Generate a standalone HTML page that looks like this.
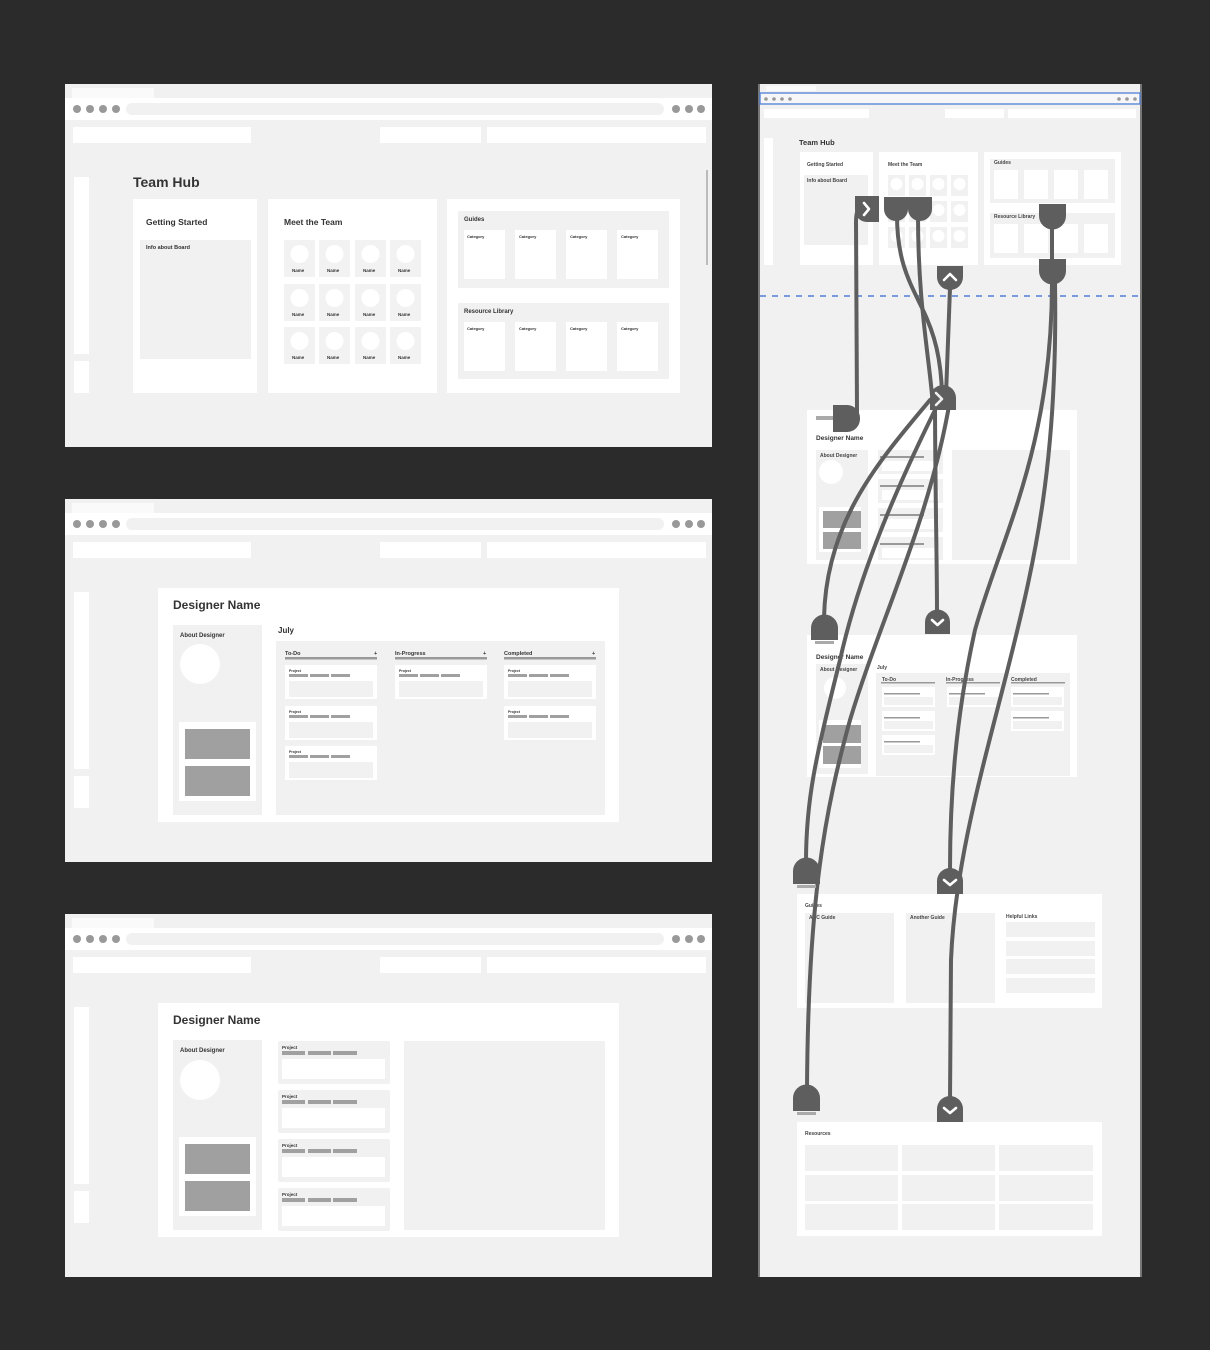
<!DOCTYPE html>
<html><head><meta charset="utf-8"><style>
html,body{margin:0;padding:0;background:#2b2b2b;}
svg{display:block;font-family:"Liberation Sans",sans-serif;}
.t{fill:#333;font-weight:bold;}
.s{fill:#444;font-weight:bold;font-size:5px;}
.c{fill:none;stroke:#5e5e5e;stroke-width:4;stroke-linecap:round;}
.n{fill:#5e5e5e;}
.ch{fill:none;stroke:#fff;stroke-width:2.6;stroke-linecap:round;stroke-linejoin:round;}
</style></head><body>
<svg width="1210" height="1350" viewBox="0 0 1210 1350" xmlns="http://www.w3.org/2000/svg">
<rect width="1210" height="1350" fill="#2b2b2b"/>

<!-- Panel 1 -->
<g>
<rect x="65" y="84" width="647" height="363" fill="#f1f1f1"/>
<rect x="72" y="88" width="82" height="10" fill="#fafafa"/>
<rect x="65" y="98" width="647" height="22" fill="#fff"/>
<circle cx="77" cy="109" r="4" fill="#999"/><circle cx="90" cy="109" r="4" fill="#999"/><circle cx="103" cy="109" r="4" fill="#999"/><circle cx="116" cy="109" r="4" fill="#999"/>
<rect x="126" y="103" width="538" height="12" rx="6" fill="#f1f1f1"/>
<circle cx="676" cy="109" r="4" fill="#999"/><circle cx="689" cy="109" r="4" fill="#999"/><circle cx="701" cy="109" r="4" fill="#999"/>
<rect x="73" y="127" width="178" height="16" fill="#fff"/><rect x="380" y="127" width="101" height="16" fill="#fff"/><rect x="487" y="127" width="219" height="16" fill="#fff"/>
<rect x="74" y="177" width="15" height="177" fill="#fff"/><rect x="74" y="361" width="15" height="32" fill="#fff"/>
</g>
<rect x="706" y="170" width="2" height="95" fill="#bbb"/>
<text x="133" y="187" class="t" font-size="14">Team Hub</text>
<rect x="133" y="199" width="124" height="194" fill="#fff"/>
<text x="146" y="225" class="t" font-size="8.5">Getting Started</text>
<rect x="140" y="240" width="111" height="119" fill="#f1f1f2"/>
<text x="146" y="249" class="t" font-size="5.5">Info about Board</text>
<rect x="268" y="199" width="169" height="194" fill="#fff"/>
<text x="284" y="225" class="t" font-size="8.5">Meet the Team</text>
<g>
<rect x="284" y="240" width="31" height="37" fill="#f2f2f3"/><circle cx="299.5" cy="254" r="9" fill="#fff"/><text x="292" y="272" class="t" font-size="4.5">Name</text>
<rect x="319" y="240" width="31" height="37" fill="#f2f2f3"/><circle cx="334.5" cy="254" r="9" fill="#fff"/><text x="327" y="272" class="t" font-size="4.5">Name</text>
<rect x="355" y="240" width="31" height="37" fill="#f2f2f3"/><circle cx="370.5" cy="254" r="9" fill="#fff"/><text x="363" y="272" class="t" font-size="4.5">Name</text>
<rect x="390" y="240" width="31" height="37" fill="#f2f2f3"/><circle cx="405.5" cy="254" r="9" fill="#fff"/><text x="398" y="272" class="t" font-size="4.5">Name</text>
</g>
<g transform="translate(0,44)">
<rect x="284" y="240" width="31" height="37" fill="#f2f2f3"/><circle cx="299.5" cy="254" r="9" fill="#fff"/><text x="292" y="272" class="t" font-size="4.5">Name</text>
<rect x="319" y="240" width="31" height="37" fill="#f2f2f3"/><circle cx="334.5" cy="254" r="9" fill="#fff"/><text x="327" y="272" class="t" font-size="4.5">Name</text>
<rect x="355" y="240" width="31" height="37" fill="#f2f2f3"/><circle cx="370.5" cy="254" r="9" fill="#fff"/><text x="363" y="272" class="t" font-size="4.5">Name</text>
<rect x="390" y="240" width="31" height="37" fill="#f2f2f3"/><circle cx="405.5" cy="254" r="9" fill="#fff"/><text x="398" y="272" class="t" font-size="4.5">Name</text>
</g>
<g transform="translate(0,87)">
<rect x="284" y="240" width="31" height="37" fill="#f2f2f3"/><circle cx="299.5" cy="254" r="9" fill="#fff"/><text x="292" y="272" class="t" font-size="4.5">Name</text>
<rect x="319" y="240" width="31" height="37" fill="#f2f2f3"/><circle cx="334.5" cy="254" r="9" fill="#fff"/><text x="327" y="272" class="t" font-size="4.5">Name</text>
<rect x="355" y="240" width="31" height="37" fill="#f2f2f3"/><circle cx="370.5" cy="254" r="9" fill="#fff"/><text x="363" y="272" class="t" font-size="4.5">Name</text>
<rect x="390" y="240" width="31" height="37" fill="#f2f2f3"/><circle cx="405.5" cy="254" r="9" fill="#fff"/><text x="398" y="272" class="t" font-size="4.5">Name</text>
</g>
<rect x="447" y="199" width="233" height="194" fill="#fff"/>
<rect x="458" y="211" width="211" height="77" fill="#f1f1f2"/>
<text x="464" y="221" class="t" font-size="6">Guides</text>
<rect x="464" y="230" width="41" height="49" fill="#fff"/><rect x="515" y="230" width="41" height="49" fill="#fff"/><rect x="566" y="230" width="41" height="49" fill="#fff"/><rect x="617" y="230" width="41" height="49" fill="#fff"/>
<text x="467" y="238" class="t" font-size="4">Category</text><text x="519" y="238" class="t" font-size="4">Category</text><text x="570" y="238" class="t" font-size="4">Category</text><text x="621" y="238" class="t" font-size="4">Category</text>
<rect x="458" y="303" width="211" height="76" fill="#f1f1f2"/>
<text x="464" y="313" class="t" font-size="6">Resource Library</text>
<rect x="464" y="322" width="41" height="49" fill="#fff"/><rect x="515" y="322" width="41" height="49" fill="#fff"/><rect x="566" y="322" width="41" height="49" fill="#fff"/><rect x="617" y="322" width="41" height="49" fill="#fff"/>
<text x="467" y="330" class="t" font-size="4">Category</text><text x="519" y="330" class="t" font-size="4">Category</text><text x="570" y="330" class="t" font-size="4">Category</text><text x="621" y="330" class="t" font-size="4">Category</text>

<!-- Panel 2 -->
<g transform="translate(0,415)">
<rect x="65" y="84" width="647" height="363" fill="#f1f1f1"/>
<rect x="72" y="88" width="82" height="10" fill="#fafafa"/>
<rect x="65" y="98" width="647" height="22" fill="#fff"/>
<circle cx="77" cy="109" r="4" fill="#999"/><circle cx="90" cy="109" r="4" fill="#999"/><circle cx="103" cy="109" r="4" fill="#999"/><circle cx="116" cy="109" r="4" fill="#999"/>
<rect x="126" y="103" width="538" height="12" rx="6" fill="#f1f1f1"/>
<circle cx="676" cy="109" r="4" fill="#999"/><circle cx="689" cy="109" r="4" fill="#999"/><circle cx="701" cy="109" r="4" fill="#999"/>
<rect x="73" y="127" width="178" height="16" fill="#fff"/><rect x="380" y="127" width="101" height="16" fill="#fff"/><rect x="487" y="127" width="219" height="16" fill="#fff"/>
<rect x="74" y="177" width="15" height="177" fill="#fff"/><rect x="74" y="361" width="15" height="32" fill="#fff"/>
</g>
<rect x="158" y="588" width="461" height="234" fill="#fff"/>
<text x="173" y="609" class="t" font-size="12">Designer Name</text>
<rect x="173" y="625" width="89" height="190" fill="#f1f1f2"/>
<text x="180" y="637" class="t" font-size="6">About Designer</text>
<circle cx="200" cy="664" r="20" fill="#fff"/>
<rect x="179" y="722" width="77" height="79" fill="#fff"/>
<rect x="185" y="729" width="65" height="30" fill="#a0a0a0"/><rect x="185" y="766" width="65" height="30" fill="#a0a0a0"/>
<text x="278" y="633" class="t" font-size="8">July</text>
<rect x="276" y="641" width="329" height="174" fill="#f1f1f2"/>
<text x="285" y="655" class="t" font-size="5.5">To-Do</text><text x="374" y="655" class="t" font-size="5.5">+</text>
<text x="395" y="655" class="t" font-size="5.5">In-Progress</text><text x="483" y="655" class="t" font-size="5.5">+</text>
<text x="504" y="655" class="t" font-size="5.5">Completed</text><text x="592" y="655" class="t" font-size="5.5">+</text>
<rect x="285" y="657" width="92" height="2.5" fill="#999"/><rect x="395" y="657" width="92" height="2.5" fill="#999"/><rect x="504" y="657" width="92" height="2.5" fill="#999"/>
<g>
<rect x="285" y="665" width="92" height="34" fill="#fff"/><text x="289" y="672" class="t" font-size="3.5">Project</text>
<rect x="289" y="674" width="19" height="3" fill="#a0a0a0"/><rect x="310" y="674" width="19" height="3" fill="#a0a0a0"/><rect x="331" y="674" width="19" height="3" fill="#a0a0a0"/>
<rect x="289" y="681" width="84" height="16" fill="#f1f1f2"/>
</g>
<g transform="translate(0,41)"><rect x="285" y="665" width="92" height="34" fill="#fff"/><text x="289" y="672" class="t" font-size="3.5">Project</text><rect x="289" y="674" width="19" height="3" fill="#a0a0a0"/><rect x="310" y="674" width="19" height="3" fill="#a0a0a0"/><rect x="331" y="674" width="19" height="3" fill="#a0a0a0"/><rect x="289" y="681" width="84" height="16" fill="#f1f1f2"/></g>
<g transform="translate(0,81)"><rect x="285" y="665" width="92" height="34" fill="#fff"/><text x="289" y="672" class="t" font-size="3.5">Project</text><rect x="289" y="674" width="19" height="3" fill="#a0a0a0"/><rect x="310" y="674" width="19" height="3" fill="#a0a0a0"/><rect x="331" y="674" width="19" height="3" fill="#a0a0a0"/><rect x="289" y="681" width="84" height="16" fill="#f1f1f2"/></g>
<g transform="translate(110,0)"><rect x="285" y="665" width="92" height="34" fill="#fff"/><text x="289" y="672" class="t" font-size="3.5">Project</text><rect x="289" y="674" width="19" height="3" fill="#a0a0a0"/><rect x="310" y="674" width="19" height="3" fill="#a0a0a0"/><rect x="331" y="674" width="19" height="3" fill="#a0a0a0"/><rect x="289" y="681" width="84" height="16" fill="#f1f1f2"/></g>
<g transform="translate(219,0)"><rect x="285" y="665" width="92" height="34" fill="#fff"/><text x="289" y="672" class="t" font-size="3.5">Project</text><rect x="289" y="674" width="19" height="3" fill="#a0a0a0"/><rect x="310" y="674" width="19" height="3" fill="#a0a0a0"/><rect x="331" y="674" width="19" height="3" fill="#a0a0a0"/><rect x="289" y="681" width="84" height="16" fill="#f1f1f2"/></g>
<g transform="translate(219,41)"><rect x="285" y="665" width="92" height="34" fill="#fff"/><text x="289" y="672" class="t" font-size="3.5">Project</text><rect x="289" y="674" width="19" height="3" fill="#a0a0a0"/><rect x="310" y="674" width="19" height="3" fill="#a0a0a0"/><rect x="331" y="674" width="19" height="3" fill="#a0a0a0"/><rect x="289" y="681" width="84" height="16" fill="#f1f1f2"/></g>

<!-- Panel 3 -->
<g transform="translate(0,830)">
<rect x="65" y="84" width="647" height="363" fill="#f1f1f1"/>
<rect x="72" y="88" width="82" height="10" fill="#fafafa"/>
<rect x="65" y="98" width="647" height="22" fill="#fff"/>
<circle cx="77" cy="109" r="4" fill="#999"/><circle cx="90" cy="109" r="4" fill="#999"/><circle cx="103" cy="109" r="4" fill="#999"/><circle cx="116" cy="109" r="4" fill="#999"/>
<rect x="126" y="103" width="538" height="12" rx="6" fill="#f1f1f1"/>
<circle cx="676" cy="109" r="4" fill="#999"/><circle cx="689" cy="109" r="4" fill="#999"/><circle cx="701" cy="109" r="4" fill="#999"/>
<rect x="73" y="127" width="178" height="16" fill="#fff"/><rect x="380" y="127" width="101" height="16" fill="#fff"/><rect x="487" y="127" width="219" height="16" fill="#fff"/>
<rect x="74" y="177" width="15" height="177" fill="#fff"/><rect x="74" y="361" width="15" height="32" fill="#fff"/>
</g>
<rect x="158" y="1003" width="461" height="234" fill="#fff"/>
<text x="173" y="1024" class="t" font-size="12">Designer Name</text>
<rect x="173" y="1040" width="89" height="190" fill="#f1f1f2"/>
<text x="180" y="1052" class="t" font-size="6">About Designer</text>
<circle cx="200" cy="1080" r="20" fill="#fff"/>
<rect x="179" y="1137" width="77" height="79" fill="#fff"/>
<rect x="185" y="1144" width="65" height="30" fill="#a0a0a0"/><rect x="185" y="1181" width="65" height="30" fill="#a0a0a0"/>
<g>
<rect x="278" y="1041" width="112" height="43" rx="2" fill="#f1f1f2"/><text x="282" y="1049" class="t" font-size="4.5">Project</text><rect x="282" y="1051" width="23" height="4" fill="#a0a0a0"/><rect x="308" y="1051" width="23" height="4" fill="#a0a0a0"/><rect x="333" y="1051" width="24" height="4" fill="#a0a0a0"/><rect x="282" y="1059" width="103" height="20" fill="#fff"/>
</g>
<g transform="translate(0,49)"><rect x="278" y="1041" width="112" height="43" rx="2" fill="#f1f1f2"/><text x="282" y="1049" class="t" font-size="4.5">Project</text><rect x="282" y="1051" width="23" height="4" fill="#a0a0a0"/><rect x="308" y="1051" width="23" height="4" fill="#a0a0a0"/><rect x="333" y="1051" width="24" height="4" fill="#a0a0a0"/><rect x="282" y="1059" width="103" height="20" fill="#fff"/></g>
<g transform="translate(0,98)"><rect x="278" y="1041" width="112" height="43" rx="2" fill="#f1f1f2"/><text x="282" y="1049" class="t" font-size="4.5">Project</text><rect x="282" y="1051" width="23" height="4" fill="#a0a0a0"/><rect x="308" y="1051" width="23" height="4" fill="#a0a0a0"/><rect x="333" y="1051" width="24" height="4" fill="#a0a0a0"/><rect x="282" y="1059" width="103" height="20" fill="#fff"/></g>
<g transform="translate(0,147)"><rect x="278" y="1041" width="112" height="43" rx="2" fill="#f1f1f2"/><text x="282" y="1049" class="t" font-size="4.5">Project</text><rect x="282" y="1051" width="23" height="4" fill="#a0a0a0"/><rect x="308" y="1051" width="23" height="4" fill="#a0a0a0"/><rect x="333" y="1051" width="24" height="4" fill="#a0a0a0"/><rect x="282" y="1059" width="103" height="20" fill="#fff"/></g>
<rect x="404" y="1041" width="201" height="189" fill="#f1f1f2"/>

<!-- Right panel -->
<rect x="758" y="84" width="384" height="1193" fill="#f1f1f1"/>
<rect x="758" y="84" width="2" height="1193" fill="#777"/>
<rect x="1140" y="84" width="2" height="1193" fill="#777"/>
<rect x="766" y="86" width="50" height="5" fill="#fafafa"/>
<rect x="760" y="93" width="380" height="11" fill="#f6f6f8" stroke="#4f7fd6" stroke-width="1.3"/>
<circle cx="766" cy="99" r="1.8" fill="#999"/><circle cx="774" cy="99" r="1.8" fill="#999"/><circle cx="782" cy="99" r="1.8" fill="#999"/><circle cx="790" cy="99" r="1.8" fill="#999"/>
<circle cx="1119" cy="99" r="1.8" fill="#999"/><circle cx="1127" cy="99" r="1.8" fill="#999"/><circle cx="1135" cy="99" r="1.8" fill="#999"/>
<rect x="764" y="109" width="105" height="9" fill="#fff"/><rect x="945" y="109" width="59" height="9" fill="#fff"/><rect x="1008" y="109" width="128" height="9" fill="#fff"/>
<rect x="764" y="138" width="9" height="127" fill="#fff"/>
<text x="799" y="145" class="t" font-size="7.5">Team Hub</text>
<rect x="800" y="152" width="73" height="113" fill="#fff"/>
<text x="807" y="166" class="s">Getting Started</text>
<rect x="804" y="175" width="64" height="70" fill="#f1f1f2"/>
<text x="807" y="182" class="s" font-size="3.5">Info about Board</text>
<rect x="879" y="152" width="99" height="113" fill="#fff"/>
<text x="888" y="166" class="s">Meet the Team</text>
<g fill="#f1f1f2">
<rect x="888" y="175" width="17" height="21"/><rect x="909" y="175" width="17" height="21"/><rect x="930" y="175" width="17" height="21"/><rect x="951" y="175" width="17" height="21"/>
<rect x="888" y="201" width="17" height="21"/><rect x="909" y="201" width="17" height="21"/><rect x="930" y="201" width="17" height="21"/><rect x="951" y="201" width="17" height="21"/>
<rect x="888" y="227" width="17" height="21"/><rect x="909" y="227" width="17" height="21"/><rect x="930" y="227" width="17" height="21"/><rect x="951" y="227" width="17" height="21"/>
</g>
<g fill="#fff">
<circle cx="896.5" cy="184" r="6"/><circle cx="917.5" cy="184" r="6"/><circle cx="938.5" cy="184" r="6"/><circle cx="959.5" cy="184" r="6"/>
<circle cx="896.5" cy="210" r="6"/><circle cx="917.5" cy="210" r="6"/><circle cx="938.5" cy="210" r="6"/><circle cx="959.5" cy="210" r="6"/>
<circle cx="896.5" cy="236" r="6"/><circle cx="917.5" cy="236" r="6"/><circle cx="938.5" cy="236" r="6"/><circle cx="959.5" cy="236" r="6"/>
</g>
<rect x="984" y="152" width="137" height="113" fill="#fff"/>
<rect x="990" y="159" width="125" height="44" fill="#f1f1f2"/><rect x="990" y="213" width="125" height="45" fill="#f1f1f2"/>
<text x="994" y="164" class="s" font-size="3.5">Guides</text><text x="994" y="218" class="s" font-size="3.5">Resource Library</text>
<g fill="#fff">
<rect x="994" y="170" width="24" height="29"/><rect x="1024" y="170" width="24" height="29"/><rect x="1054" y="170" width="24" height="29"/><rect x="1084" y="170" width="24" height="29"/>
<rect x="994" y="224" width="24" height="29"/><rect x="1024" y="224" width="24" height="29"/><rect x="1054" y="224" width="24" height="29"/><rect x="1084" y="224" width="24" height="29"/>
</g>
<line x1="760" y1="296" x2="1140" y2="296" stroke="#4f7fd6" stroke-width="1.5" stroke-dasharray="6,6"/>

<rect x="807" y="410" width="270" height="154" fill="#fff"/>
<text x="816" y="440" class="t" font-size="6.5">Designer Name</text>
<rect x="816" y="450" width="52" height="110" fill="#f1f1f2"/>
<text x="820" y="457" class="s" font-size="3.5">About Designer</text>
<circle cx="831" cy="472" r="12" fill="#fff"/>
<rect x="819" y="507" width="42" height="45" fill="#fff"/><rect x="823" y="511" width="38" height="17" fill="#a0a0a0"/><rect x="823" y="532" width="38" height="17" fill="#a0a0a0"/>
<g fill="#f1f1f2"><rect x="878" y="450" width="65" height="24"/><rect x="878" y="479" width="65" height="24"/><rect x="878" y="508" width="65" height="24"/><rect x="878" y="537" width="65" height="23"/></g>
<g fill="#fff"><rect x="882" y="461" width="57" height="10"/><rect x="882" y="490" width="57" height="10"/><rect x="882" y="519" width="57" height="10"/><rect x="882" y="548" width="57" height="10"/></g>
<g fill="#999"><rect x="880" y="456" width="44" height="2"/><rect x="880" y="485" width="44" height="2"/><rect x="880" y="514" width="44" height="2"/><rect x="880" y="543" width="44" height="2"/></g>
<rect x="952" y="450" width="118" height="110" fill="#f1f1f2"/>

<rect x="807" y="635" width="270" height="142" fill="#fff"/>
<text x="816" y="659" class="t" font-size="6.5">Designer Name</text>
<rect x="816" y="664" width="52" height="110" fill="#f1f1f2"/>
<text x="820" y="671" class="s" font-size="3.5">About Designer</text>
<circle cx="835" cy="688" r="11" fill="#fff"/>
<rect x="819" y="720" width="42" height="48" fill="#fff"/><rect x="823" y="725" width="38" height="18" fill="#a0a0a0"/><rect x="823" y="746" width="38" height="18" fill="#a0a0a0"/>
<text x="877" y="669" class="s" font-size="4">July</text>
<rect x="876" y="673" width="194" height="103" fill="#f1f1f2"/>
<text x="882" y="681" class="s" font-size="3.5">To-Do</text><text x="946" y="681" class="s" font-size="3.5">In-Progress</text><text x="1011" y="681" class="s" font-size="3.5">Completed</text>
<g fill="#999"><rect x="881" y="682" width="54" height="1.5"/><rect x="946" y="682" width="54" height="1.5"/><rect x="1011" y="682" width="54" height="1.5"/></g>
<g fill="#fff"><rect x="882" y="687" width="53" height="20"/><rect x="882" y="711" width="53" height="20"/><rect x="882" y="735" width="53" height="20"/><rect x="947" y="687" width="53" height="20"/><rect x="1011" y="687" width="53" height="20"/><rect x="1011" y="711" width="53" height="20"/></g>
<g fill="#999"><rect x="884" y="693" width="36" height="1.5"/><rect x="884" y="717" width="36" height="1.5"/><rect x="884" y="741" width="36" height="1.5"/><rect x="949" y="693" width="36" height="1.5"/><rect x="1013" y="693" width="36" height="1.5"/><rect x="1013" y="717" width="36" height="1.5"/></g>
<g fill="#f1f1f2"><rect x="884" y="697" width="49" height="8"/><rect x="884" y="721" width="49" height="8"/><rect x="884" y="745" width="49" height="8"/><rect x="949" y="697" width="49" height="8"/><rect x="1013" y="697" width="49" height="8"/><rect x="1013" y="721" width="49" height="8"/></g>

<rect x="797" y="894" width="305" height="114" fill="#fff"/>
<text x="805" y="907" class="s">Guides</text>
<rect x="805" y="913" width="89" height="90" fill="#f1f1f2"/><rect x="906" y="913" width="89" height="90" fill="#f1f1f2"/>
<text x="809" y="919" class="s" font-size="3.5">ABC Guide</text><text x="910" y="919" class="s" font-size="3.5">Another Guide</text><text x="1006" y="918" class="s" font-size="3.5">Helpful Links</text>
<g fill="#f1f1f2"><rect x="1006" y="922" width="89" height="15"/><rect x="1006" y="941" width="89" height="15"/><rect x="1006" y="959" width="89" height="15"/><rect x="1006" y="978" width="89" height="15"/></g>

<rect x="797" y="1122" width="305" height="114" fill="#fff"/>
<text x="805" y="1135" class="s">Resources</text>
<g fill="#f1f1f2">
<rect x="805" y="1145" width="93" height="26"/><rect x="902" y="1145" width="93" height="26"/><rect x="999" y="1145" width="94" height="26"/>
<rect x="805" y="1175" width="93" height="26"/><rect x="902" y="1175" width="93" height="26"/><rect x="999" y="1175" width="94" height="26"/>
<rect x="805" y="1204" width="93" height="26"/><rect x="902" y="1204" width="93" height="26"/><rect x="999" y="1204" width="94" height="26"/>
</g>

<!-- Connectors -->
<path class="c" d="M866,205 C858,205 856,212 856,222 L857,412"/>
<path class="c" d="M897,215 C897,300 940,300 942,395"/>
<path class="c" d="M918,215 C918,300 928,350 932,395"/>
<path class="c" d="M950,288 L946,395"/>
<path class="c" d="M935,398 C935,480 937,560 937,612"/>
<path class="c" d="M930,400 C880,460 826,520 824,618"/>
<path class="c" d="M940,400 C900,480 860,570 840,660 C815,760 806,800 806,862"/>
<path class="c" d="M950,400 C930,520 880,620 850,720 C825,810 808,900 807,1090"/>
<path class="c" d="M1052,283 C1052,450 1000,540 975,630 C955,720 950,800 950,870"/>
<path class="c" d="M1055,283 C1058,460 1035,560 1010,660 C985,760 955,860 951,960 L950,1100"/>
<line class="c" x1="1052" y1="228" x2="1052" y2="262"/>

<!-- Nodes -->
<path class="n" d="M855,196 h24 v26 h-12 a12,12 0 0 1 -12,-12 z"/>
<path class="ch" d="M864,203 l5,6 l-5,6"/>
<path class="n" d="M884,197 h48 v12 a12,12 0 0 1 -24,0 a12,12 0 0 1 -24,0 z"/>
<path class="n" d="M937,266 h26 v11 a13,13 0 0 1 -26,0 z"/>
<path class="ch" d="M944,280 l6,-6 l6,6"/>
<path class="n" d="M930,410 v-12 a13,13 0 0 1 26,0 v12 z"/>
<path class="ch" d="M936,393 l6,6 l-6,6" opacity="0.9"/>
<path class="n" d="M833,405 h14 a13,13 0 0 1 13,13 v1 a13,13 0 0 1 -13,13 h-14 z"/>
<rect x="816" y="416" width="17" height="4" fill="#aaa"/>
<path class="n" d="M1039,204 h27 v12 a13.5,13.5 0 0 1 -27,0 z"/>
<path class="n" d="M1039,259 h27 v12 a13.5,13.5 0 0 1 -27,0 z"/>
<path class="n" d="M811,640 v-12 a13.5,13.5 0 0 1 27,0 v12 z"/>
<rect x="815" y="641" width="19" height="3" fill="#aaa"/>
<path class="n" d="M925,634 v-12 a12.5,12.5 0 0 1 25,0 v12 z"/>
<path class="ch" d="M932,620 l5.5,5 l5.5,-5"/>
<path class="n" d="M793,884 v-13 a13.5,13.5 0 0 1 27,0 v13 z"/>
<rect x="797" y="885" width="19" height="3" fill="#aaa"/>
<path class="n" d="M937,894 v-13 a13,13 0 0 1 26,0 v13 z"/>
<path class="ch" d="M944,880 l6,5 l6,-5"/>
<path class="n" d="M793,1111 v-13 a13.5,13.5 0 0 1 27,0 v13 z"/>
<rect x="797" y="1112" width="19" height="3" fill="#aaa"/>
<path class="n" d="M937,1122 v-13 a13,13 0 0 1 26,0 v13 z"/>
<path class="ch" d="M944,1108 l6,5 l6,-5"/>
</svg>
</body></html>
